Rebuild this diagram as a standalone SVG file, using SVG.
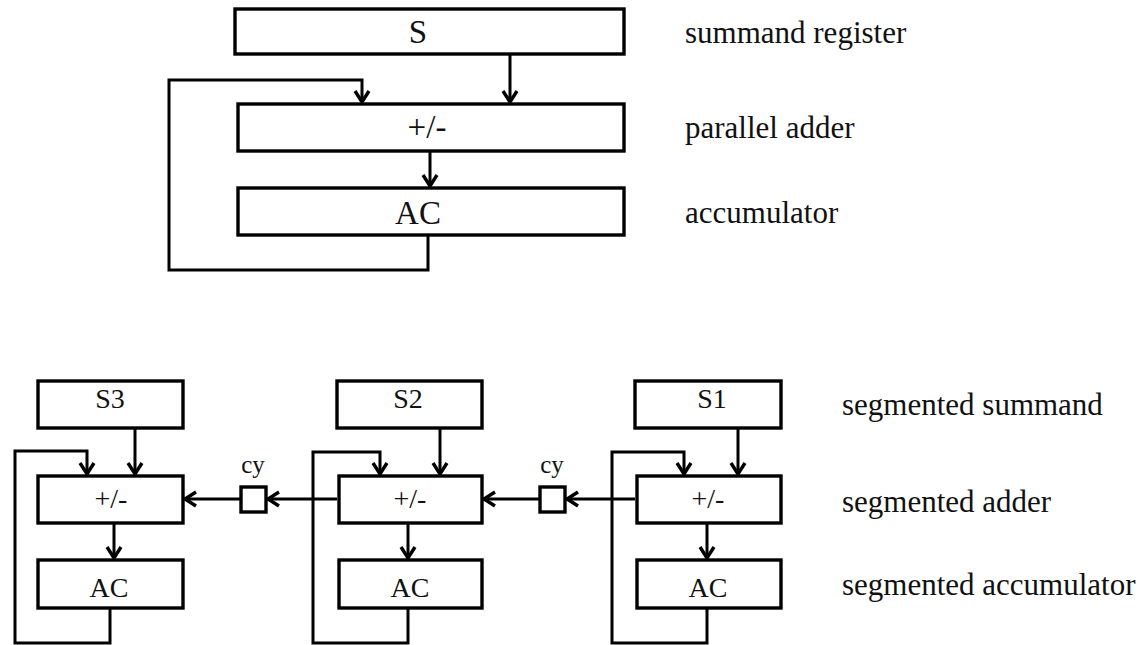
<svg xmlns="http://www.w3.org/2000/svg" width="1145" height="645" viewBox="0 0 1145 645">
<style>
.box{fill:#fff;stroke:#000;stroke-width:3.4}
.ln{fill:none;stroke:#000;stroke-width:3}
.t{font-family:"Liberation Serif","Times New Roman",serif;fill:#111;text-anchor:middle}
.big{font-size:33px}
.sm{font-size:28px}
.lab{font-family:"Liberation Serif","Times New Roman",serif;fill:#111;font-size:31px}
.cy{font-size:25px}
</style>
<defs>
<marker id="ah" markerUnits="userSpaceOnUse" markerWidth="16" markerHeight="18" viewBox="-13 -9 15 18" refX="0" refY="0" orient="auto">
<path d="M-11,-7 L0,0 L-11,7" fill="none" stroke="#000" stroke-width="3.4"/>
</marker>
</defs>
<rect width="1145" height="645" fill="#fff"/>
<g id="connectors">
<path class="ln" d="M510,54 V102" marker-end="url(#ah)"/>
<path class="ln" d="M428,235 V270 H169 V80 H362 V102" marker-end="url(#ah)"/>
<path class="ln" d="M430,151 V186" marker-end="url(#ah)"/>
<path class="ln" d="M135,428 V474" marker-end="url(#ah)"/>
<path class="ln" d="M110,608 V643 H15 V451 H87 V474" marker-end="url(#ah)"/>
<path class="ln" d="M114,523 V558" marker-end="url(#ah)"/>
<path class="ln" d="M440,428 V474" marker-end="url(#ah)"/>
<path class="ln" d="M408,608 V643 H313 V452 H380 V474" marker-end="url(#ah)"/>
<path class="ln" d="M408,523 V558" marker-end="url(#ah)"/>
<path class="ln" d="M738,428 V474" marker-end="url(#ah)"/>
<path class="ln" d="M707,608 V643 H612 V452 H684 V474" marker-end="url(#ah)"/>
<path class="ln" d="M707,523 V558" marker-end="url(#ah)"/>
<path class="ln" d="M337,499 H268" marker-end="url(#ah)"/>
<path class="ln" d="M241,499 H185" marker-end="url(#ah)"/>
<path class="ln" d="M635,499 H567" marker-end="url(#ah)"/>
<path class="ln" d="M540,499 H484" marker-end="url(#ah)"/>
</g>
<g id="S"><rect class="box" x="235" y="9" width="389" height="45"/><text class="t big" x="418" y="43">S</text></g>
<g id="adder"><rect class="box" x="238" y="104" width="386" height="47"/><text class="t big" x="427" y="138">+/-</text></g>
<g id="AC"><rect class="box" x="238" y="188" width="386" height="47"/><text class="t big" x="418" y="224">AC</text></g>
<g id="S3"><rect class="box" x="38" y="381" width="145" height="47"/><text class="t sm" x="110" y="408">S3</text></g>
<g id="adder3"><rect class="box" x="38" y="476" width="145" height="47"/><text class="t sm" x="111" y="508">+/-</text></g>
<g id="AC3"><rect class="box" x="38" y="560" width="145" height="48"/><text class="t sm" x="109" y="597">AC</text></g>
<g id="S2"><rect class="box" x="337" y="381" width="145" height="47"/><text class="t sm" x="408" y="408">S2</text></g>
<g id="adder2"><rect class="box" x="339" y="476" width="143" height="47"/><text class="t sm" x="410" y="508">+/-</text></g>
<g id="AC2"><rect class="box" x="339" y="560" width="143" height="48"/><text class="t sm" x="410" y="597">AC</text></g>
<g id="S1"><rect class="box" x="635" y="381" width="146" height="47"/><text class="t sm" x="712" y="408">S1</text></g>
<g id="adder1"><rect class="box" x="637" y="476" width="144" height="47"/><text class="t sm" x="708" y="508">+/-</text></g>
<g id="AC1"><rect class="box" x="637" y="560" width="144" height="48"/><text class="t sm" x="708" y="597">AC</text></g>
<g id="cy1"><rect class="box" x="241" y="487" width="25" height="25"/><text class="t cy" x="253" y="473">cy</text></g>
<g id="cy2"><rect class="box" x="540" y="487" width="25" height="25"/><text class="t cy" x="552" y="473">cy</text></g>
<g id="labels">
<text class="lab" x="685" y="43">summand register</text>
<text class="lab" x="685" y="138">parallel adder</text>
<text class="lab" x="685" y="223">accumulator</text>
<text class="lab" x="842" y="415">segmented summand</text>
<text class="lab" x="842" y="512">segmented adder</text>
<text class="lab" x="842" y="595">segmented accumulator</text>
</g>
</svg>
